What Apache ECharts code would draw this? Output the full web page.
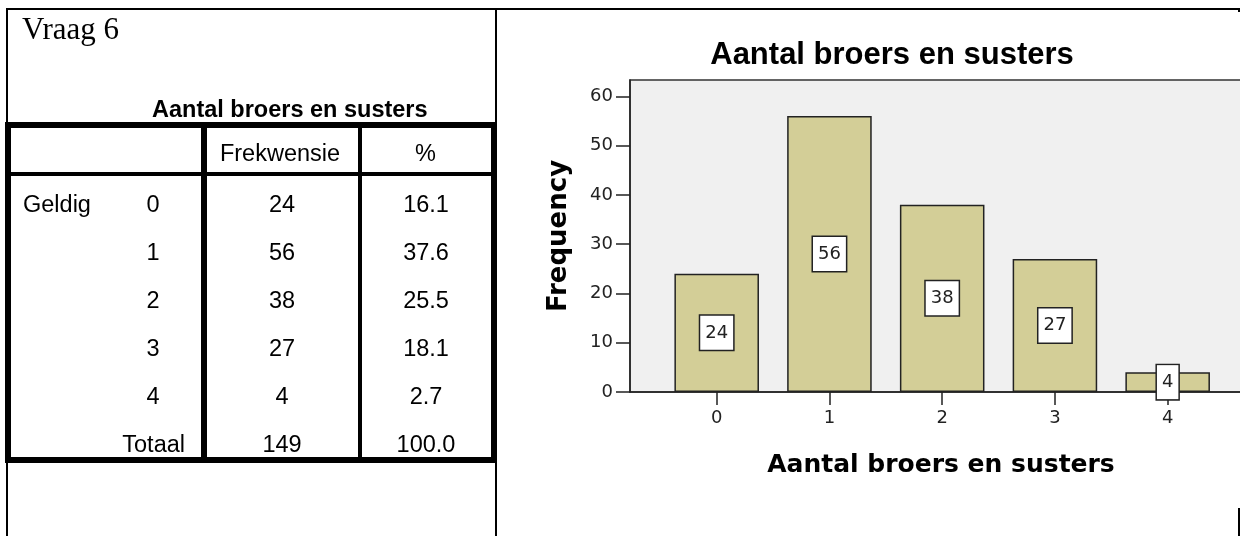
<!DOCTYPE html>
<html>
<head>
<meta charset="utf-8">
<script src="https://cdn.jsdelivr.net/npm/echarts@6/dist/echarts.min.js"></script>
<style>
html, body { margin: 0; padding: 0; background: #fff; width: 1240px; height: 536px; overflow: hidden; }
#chart { position: absolute; left: 0; top: 0; width: 1240px; height: 536px; }
.ln { position: absolute; background: #000; }
.t { position: absolute; font-family: 'Liberation Sans', Arial, sans-serif; font-size: 23.5px; color: #000;
     height: 48px; line-height: 48px; white-space: nowrap; }
.c { width: 200px; text-align: center; }
.r { width: 200px; text-align: right; }
.b { font-weight: bold; }
.q { font-family: 'Liberation Serif', 'Times New Roman', serif; font-size: 31px; height: 40px; line-height: 40px; }
</style>
</head>
<body>
<div id="chart"></div>
<div id="panel"></div>
<script>
// ---- data ----
const questionLabel = 'Vraag 6';
const tableTitle = 'Aantal broers en susters';
const headerLabels = ['Frekwensie', '%'];
const validLabel = 'Geldig';
const totalLabel = 'Totaal';
const categories = [0, 1, 2, 3, 4];
const frequencies = [24, 56, 38, 27, 4];
const percents = ['16.1', '37.6', '25.5', '18.1', '2.7'];
const totalFrequency = 149;
const totalPercent = '100.0';
const yTicks = [0, 10, 20, 30, 40, 50, 60];
const chartTitle = 'Aantal broers en susters';
const xAxisName = 'Aantal broers en susters';
const yAxisName = 'Frequency';

// ---- left panel (table) ----
const panel = document.getElementById('panel');
function line(x, y, w, h) {
  const d = document.createElement('div');
  d.className = 'ln';
  d.style.left = x + 'px'; d.style.top = y + 'px';
  d.style.width = w + 'px'; d.style.height = h + 'px';
  panel.appendChild(d);
}
function text(str, cls, x, cy, h) {
  const d = document.createElement('div');
  d.className = 't ' + cls;
  const hh = h || 48;
  let left = x;
  if (cls.indexOf('c') >= 0) left = x - 100;
  if (cls.indexOf('r') >= 0 && cls.indexOf('c') < 0) left = x - 200;
  d.style.left = left + 'px';
  d.style.top = (cy - hh / 2) + 'px';
  d.textContent = str;
  panel.appendChild(d);
}
// outer frame
line(6, 8, 1234, 2);
line(6, 8, 2, 528);
line(495, 8, 2, 528);
line(1238, 508, 2, 28);
line(1238, 8, 2, 4);
// table borders
line(5, 122, 492, 6);
line(5, 457, 492, 6);
line(5, 122, 6, 341);
line(491, 122, 6, 341);
line(5, 172, 492, 4);
line(201, 122, 6, 341);
line(358, 122, 4, 341);

text(questionLabel, 'q', 22, 29, 40);
text(tableTitle, 'c b', 252, 109);
text(headerLabels[0], 'c', 280, 153);
text(headerLabels[1], 'c', 425.5, 153);
const rowTop = 204, rowStep = 48;
categories.forEach((c, i) => {
  const cy = rowTop + rowStep * i;
  if (i === 0) text(validLabel, '', 23, cy);
  text(String(c), 'c', 153, cy);
  text(String(frequencies[i]), 'c', 282, cy);
  text(percents[i], 'c', 426, cy);
});
const totalY = rowTop + rowStep * categories.length;
text(totalLabel, 'r', 185, totalY);
text(String(totalFrequency), 'c', 282, totalY);
text(totalPercent, 'c', 426, totalY);

// ---- chart ----
const chart = echarts.init(document.getElementById('chart'), null, { renderer: 'canvas' });
const barData = categories.map((c, i) => [c, frequencies[i]]);
const tickFont = { fontFamily: 'DejaVu Sans', fontSize: 18, color: '#222' };
const nameFont = { fontFamily: 'DejaVu Sans', fontWeight: 'bold', fontSize: 25, color: '#000' };
chart.setOption({
  animation: false,
  title: {
    text: chartTitle, left: 892, top: 40, textAlign: 'center', padding: 0,
    textStyle: { fontFamily: 'Liberation Sans', fontWeight: 'bold', fontSize: 31, color: '#000' }
  },
  grid: {
    left: 630, top: 80, right: -12, bottom: 144,
    show: true, backgroundColor: '#f0f0f0', borderColor: '#333', borderWidth: 1.5,
    containLabel: false, outerBoundsMode: 'none'
  },
  xAxis: {
    type: 'value', min: -0.769, max: 4.748,
    name: xAxisName, nameLocation: 'middle', nameGap: 61, nameTextStyle: nameFont,
    axisLine: { show: true, onZero: false, lineStyle: { color: '#222', width: 1.5 } },
    axisTick: { show: true, length: 13, customValues: categories, lineStyle: { color: '#222', width: 1.5 } },
    axisLabel: Object.assign({ show: true, customValues: categories, margin: 17 }, tickFont),
    splitLine: { show: false }
  },
  yAxis: {
    type: 'value', min: 0, max: 63.3,
    name: yAxisName, nameLocation: 'middle', nameRotate: 90, nameGap: 58,
    nameTextStyle: Object.assign({}, nameFont, { fontSize: 26 }),
    axisLine: { show: true, onZero: false, lineStyle: { color: '#222', width: 1.5 } },
    axisTick: { show: true, length: 14, customValues: yTicks, lineStyle: { color: '#222', width: 1.5 } },
    axisLabel: Object.assign({ show: true, customValues: yTicks, margin: 17 }, tickFont),
    splitLine: { show: false }
  },
  series: [{
    type: 'bar',
    data: barData,
    barWidth: '75%',
    itemStyle: { color: '#d3ce97', borderColor: '#222', borderWidth: 1.5 },
    label: {
      show: true, position: 'inside',
      formatter: p => String(p.value[1]),
      fontFamily: 'DejaVu Sans', fontSize: 18, color: '#222', lineHeight: 22,
      backgroundColor: '#fff', borderColor: '#222', borderWidth: 1.5, padding: [6, 5, 6, 5]
    }
  }]
});
</script>
</body>
</html>
